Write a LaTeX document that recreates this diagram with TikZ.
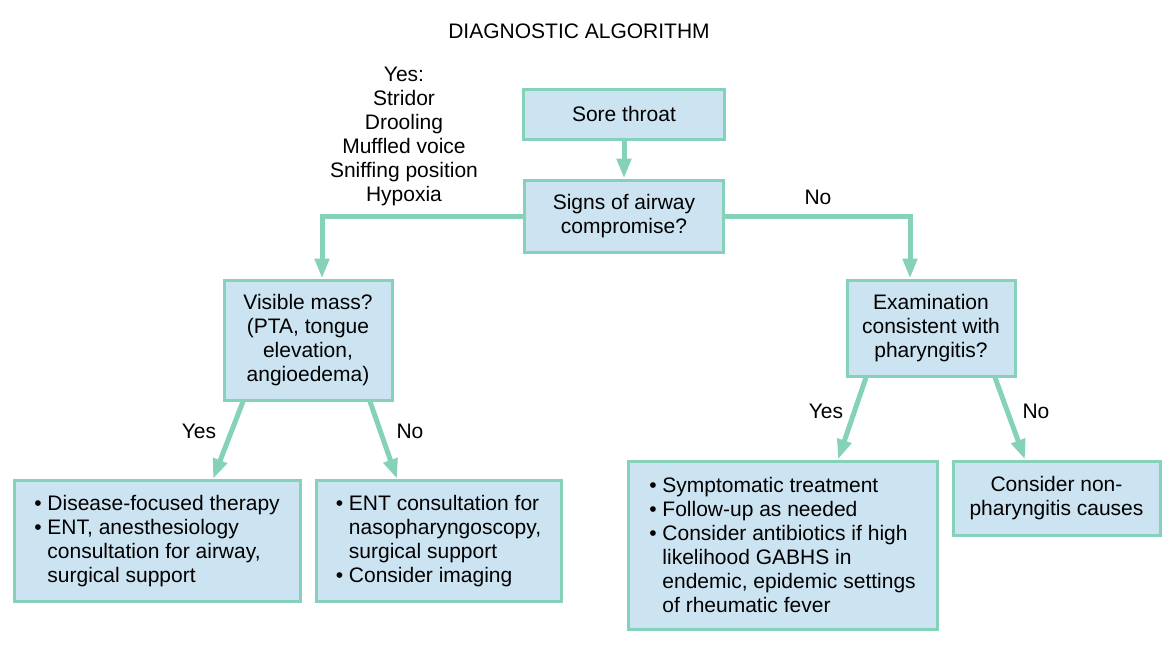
\documentclass[tikz,border=0pt]{standalone}
\usepackage{fontspec}
\setmainfont{Liberation Sans}
\usetikzlibrary{arrows.meta,positioning}
\definecolor{boxFill}{HTML}{CCE4F1}
\definecolor{boxLine}{HTML}{86D1B9}
\newcommand{\bitem}{\textbullet\ }
\newcommand{\bind}{\hphantom{\textbullet\ }}

\begin{document}
\begin{tikzpicture}[x=0.5pt,y=-0.5pt,font=\fontsize{10.5}{12}\selectfont,
    box/.style={draw=boxLine,line width=1.5pt,fill=boxFill,align=center,inner sep=0pt},
    listbox/.style={box,align=left},
    flow/.style={draw=boxLine,line width=2.5pt,-{Triangle[width=7pt,length=10pt]}},
    lbl/.style={align=center,inner sep=0pt}]
    \useasboundingbox (0,0) rectangle (1174,645);

    % title
    \node[lbl] (title) at (579,31) {DIAGNOSTIC ALGORITHM};

    % top
    \node[box,minimum width=100.5pt,minimum height=25pt] (sore) at (624,114) {Sore throat};
    \node[box,minimum width=99.5pt,minimum height=36pt] (airway) at (624,216) {Signs of airway\\compromise?};

    % second row
    \node[box,minimum width=84pt,minimum height=60pt] (mass) at (308,340)
        {Visible mass?\\(PTA, tongue\\elevation,\\angioedema)};
    \node[box,minimum width=84pt,minimum height=48pt] (exam) at (931,328)
        {Examination\\consistent with\\pharyngitis?};

    % bottom row
    \node[listbox,minimum width=143pt,minimum height=60.5pt] (therapy) at (157,541)
        {\bitem Disease-focused therapy\\\bitem ENT, anesthesiology\\\bind consultation for airway,\\\bind surgical support};
    \node[listbox,minimum width=122.5pt,minimum height=60.5pt] (entcons) at (438.5,541)
        {\bitem ENT consultation for\\\bind nasopharyngoscopy,\\\bind surgical support\\\bitem Consider imaging};
    \node[listbox,minimum width=154.5pt,minimum height=84pt] (sympt) at (782.5,545)
        {\bitem Symptomatic treatment\\\bitem Follow-up as needed\\\bitem Consider antibiotics if high\\\bind likelihood GABHS in\\\bind endemic, epidemic settings\\\bind of rheumatic fever};
    \node[box,minimum width=103.5pt,minimum height=37pt] (other) at (1056.5,498)
        {Consider non-\\pharyngitis causes};

    % connectors
    \draw[flow] (sore.south) -- (airway.north);
    \draw[flow] (airway.west) -| ([xshift=7pt]mass.north);
    \draw[flow] (airway.east) -| ([xshift=-10.5pt]exam.north);
    \draw[flow] ([xshift=-32.5pt]mass.south) -- ([xshift=28pt]therapy.north);
    \draw[flow] ([xshift=31pt]mass.south) -- ([xshift=-20.75pt]entcons.north);
    \draw[flow] ([xshift=-32.5pt]exam.south) -- ([xshift=27.75pt]sympt.north);
    \draw[flow] ([xshift=32pt]exam.south) -- ([xshift=-15.75pt]other.north);

    % labels
    \node[lbl] (yessigns) at (404,136) {Yes:\\Stridor\\Drooling\\Muffled voice\\Sniffing position\\Hypoxia};
    \node[lbl] (nosigns) at (818,197) {No};
    \node[lbl] (yesmass) at (199,431) {Yes};
    \node[lbl] (nomass) at (410,431) {No};
    \node[lbl] (yesexam) at (826,411) {Yes};
    \node[lbl] (noexam) at (1036,411) {No};
\end{tikzpicture}
\end{document}
